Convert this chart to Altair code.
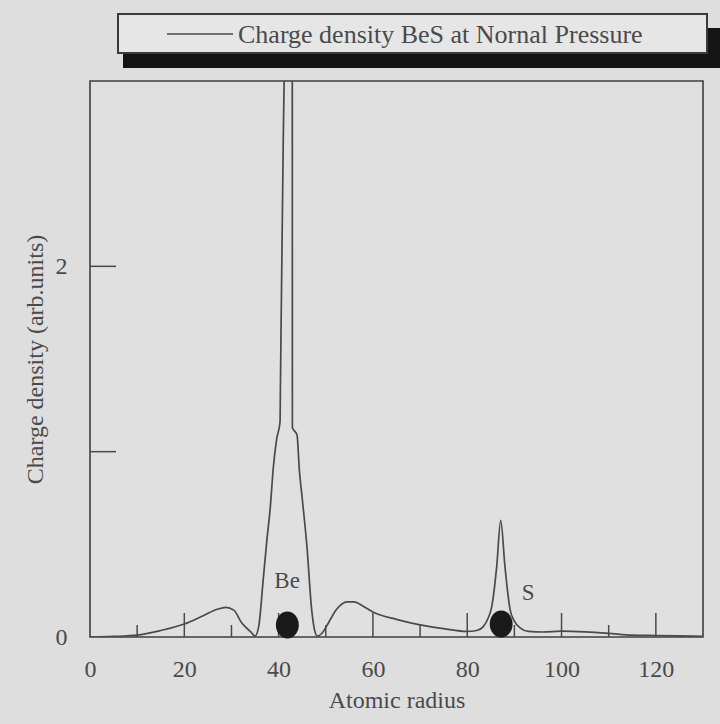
import altair as alt
import pandas as pd

# Charge density profile along the Be–S direction
radius = [0, 5, 10, 15, 20, 24, 27, 28.8, 30.5, 32.2, 34.2, 35.0, 35.8, 36.7, 37.5,
          38.2, 38.9, 39.6, 40.3, 40.4, 40.9, 41.2, 42.0, 42.9, 42.92, 43.9, 44.4,
          45.0, 46.0, 47.0, 47.6, 48.2, 49.2, 50.2, 52.3, 54.5, 56.0, 58.0, 60.0,
          65, 70, 75, 80, 82, 83.4, 84.4, 85.2, 86.25, 87.1, 88.0, 89.1, 90.0,
          91.2, 93, 96, 100, 105, 110, 115, 120, 125, 130]
density = [0.0, 0.003, 0.01, 0.035, 0.07, 0.115, 0.15, 0.16, 0.145, 0.075, 0.025,
           0.005, 0.06, 0.3, 0.52, 0.69, 0.92, 1.07, 1.16, 1.39, 2.5, 3.05, 3.3,
           3.05, 1.13, 1.09, 0.90, 0.75, 0.49, 0.15, 0.04, 0.005, 0.02, 0.06, 0.15,
           0.19, 0.19, 0.165, 0.135, 0.095, 0.065, 0.045, 0.03, 0.035, 0.056, 0.10,
           0.164, 0.38, 0.63, 0.38, 0.146, 0.085, 0.049, 0.03, 0.027, 0.032, 0.028,
           0.02, 0.01, 0.008, 0.006, 0.004]

# Atom positions and their labels
atom_names = ["Be", "S"]
atom_x = [41.85, 87.2]
atom_y = [0.065, 0.07]
label_x = [41.8, 92.9]
label_y = [0.30, 0.236]

x_tick_labels = [0, 20, 40, 60, 80, 100, 120]
x_major_ticks = [20, 40, 60, 80, 100, 120]
x_minor_ticks = [10, 30, 50, 70, 90, 110]
y_tick_labels = [0, 2]
y_inner_ticks = [1, 2]

legend_text = "Charge density BeS at Nornal Pressure"

FONT = "Liberation Serif"
INK = "#4a4a4a"
W, H = 613, 556

profile = pd.DataFrame({"r": radius, "rho": density, "i": range(len(radius))})
atoms = pd.DataFrame({"name": atom_names, "ax": atom_x, "ay": atom_y,
                      "lx": label_x, "ly": label_y})

xs = alt.Scale(domain=[0, 130], nice=False, zero=False)
ys = alt.Scale(domain=[0, 3], nice=False, zero=False)

# One axis definition shared by every layer so the merged axes stay identical
xa = alt.Axis(values=x_tick_labels, ticks=False, tickSize=0, domain=False,
              grid=False, labelPadding=20, titlePadding=7, labelFlush=False,
              title="Atomic radius")
ya = alt.Axis(values=y_tick_labels, ticks=False, tickSize=0, domain=False,
              grid=False, labelPadding=23, titlePadding=8, labelFlush=False,
              title="Charge density (arb.units)")


def X(field):
    return alt.X(field, type="quantitative", scale=xs, axis=xa)


def Y(field):
    return alt.Y(field, type="quantitative", scale=ys, axis=ya)


line = alt.Chart(profile).mark_line(
    color=INK, strokeWidth=1.7, clip=True, interpolate="monotone").encode(
    x=X("r"), y=Y("rho"), order=alt.Order("i:Q"))

major = alt.Chart(pd.DataFrame({"t": x_major_ticks})).mark_rule(
    color=INK, strokeWidth=1.5).encode(x=X("t"), y=alt.value(H), y2=alt.value(H - 24))
minor = alt.Chart(pd.DataFrame({"t": x_minor_ticks})).mark_rule(
    color=INK, strokeWidth=1.5).encode(x=X("t"), y=alt.value(H), y2=alt.value(H - 12))
yticks = alt.Chart(pd.DataFrame({"v": y_inner_ticks})).mark_rule(
    color=INK, strokeWidth=1.5).encode(y=Y("v"), x=alt.value(0), x2=alt.value(26))

ellipse = "M -0.85 0 A 0.85 1 0 1 1 0.85 0 A 0.85 1 0 1 1 -0.85 0 Z"
dots = alt.Chart(atoms).mark_point(shape=ellipse, size=729, filled=True,
                                   color="#1a1a1a", opacity=1).encode(
    x=X("ax"), y=Y("ay"))
names = alt.Chart(atoms).mark_text(font=FONT, fontSize=23, color=INK).encode(
    x=X("lx"), y=Y("ly"), text="name:N")

# Boxed legend with a drop shadow above the plot
one = pd.DataFrame({"k": [0]})
shadow = alt.Chart(one).mark_rect(color="#141414", clip=False).encode(
    x=alt.value(33), x2=alt.value(640), y=alt.value(-53), y2=alt.value(-13))
box = alt.Chart(one).mark_rect(
    fill="#e6e6e6", stroke="#3a3a3a", strokeWidth=2, clip=False).encode(
    x=alt.value(28), x2=alt.value(617), y=alt.value(-67), y2=alt.value(-28))
sample = alt.Chart(one).mark_rule(color=INK, strokeWidth=1.6, clip=False).encode(
    x=alt.value(77), x2=alt.value(143), y=alt.value(-47))
caption = alt.Chart(one).mark_text(
    text=legend_text, font=FONT, fontSize=26, color=INK, align="left",
    baseline="middle", clip=False).encode(x=alt.value(148), y=alt.value(-46))

chart = alt.layer(line, major, minor, yticks, dots, names, shadow, box, sample, caption).properties(
    width=W, height=H,
    autosize=alt.AutoSizeParams(type="none"),
    padding={"left": 90, "top": 81, "right": 17, "bottom": 87},
    background="#dedede",
).configure_view(
    stroke="#3f3f3f", strokeWidth=1.6, fill="#e0e0e0"
).configure_axis(
    labelFont=FONT, labelFontSize=24, labelColor=INK,
    titleFont=FONT, titleFontSize=24, titleColor=INK, titleFontWeight="normal",
)

chart.save("out.html", embed_options={"renderer": "svg", "actions": False})
